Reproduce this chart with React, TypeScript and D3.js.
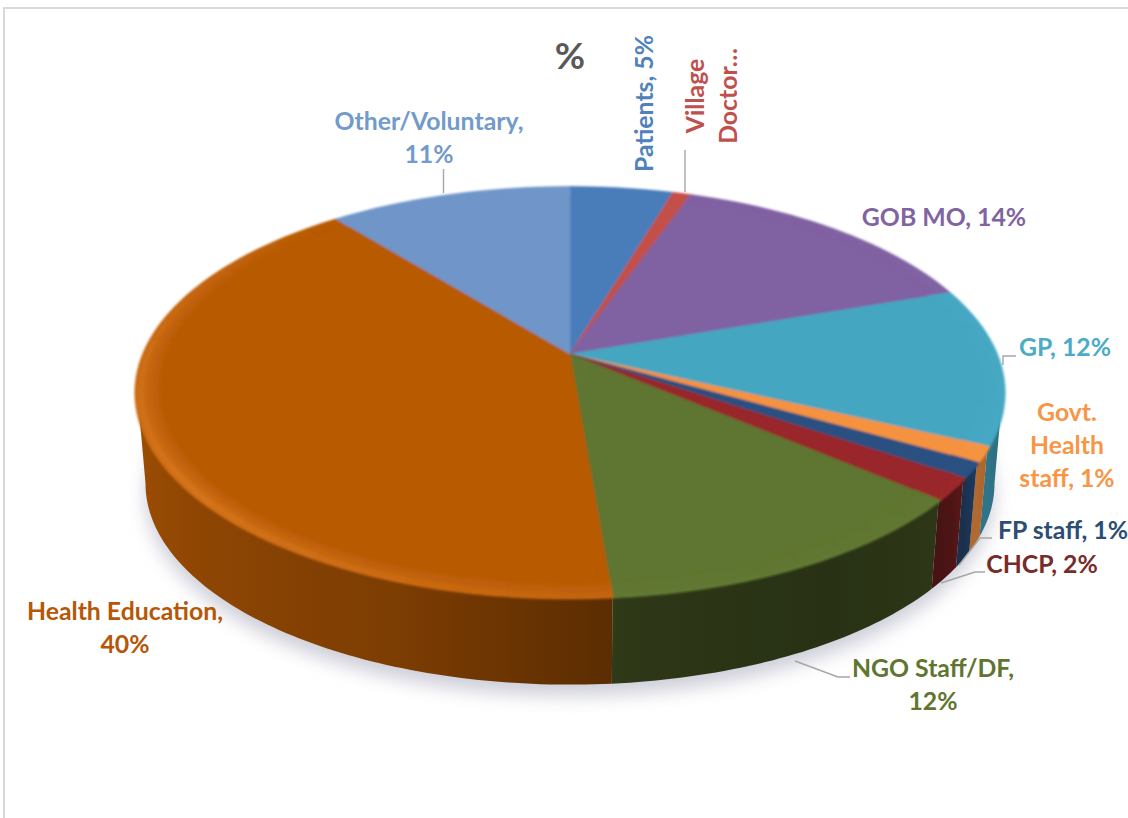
import React from "react";
import * as d3 from "d3";

const categories = ["Patients", "Village Doctor", "GOB MO", "GP", "Govt. Health staff", "FP staff", "CHCP", "NGO Staff/DF", "Health Education", "Other/Voluntary"];
const values = [4.6, 0.8, 14.3, 12.35, 1.2, 1.2, 1.75, 12.5, 40.5, 10.8];
const sliceColors = ["#4a7dba", "#c4504a", "#8062a2", "#45a6c2", "#f59240", "#2b5081", "#98282a", "#5f7530", "#b85a04", "#7096c9"];
const labelLines = [
  ["Patients, 5%"], ["Village", "Doctor…"], ["GOB MO, 14%"], ["GP, 12%"], ["Govt.", "Health", "staff, 1%"],
  ["FP staff, 1%"], ["CHCP, 2%"], ["NGO Staff/DF,", "12%"], ["Health Education,", "40%"], ["Other/Voluntary,", "11%"],
];
const labelColors = ["#4f81bd", "#c0504d", "#8064a2", "#4bacc6", "#f79646", "#2c4d75", "#772c2a", "#5f7530", "#b65708", "#729aca"];
const labelAnchors: [number, number, number][] = [
  [653, 172, -90], [704, 96, -90], [944, 226, 0], [1065, 356, 0], [1067, 421, 0],
  [1063, 539, 0], [1042, 573, 0], [933, 677, 0], [125, 620, 0], [429, 130, 0],
];
const leaders: [number, number][][] = [
  [[685, 150], [685, 192]],
  [[1003, 365], [1003, 356], [1016, 356]],
  [[959, 565], [980, 538], [992, 538]],
  [[941, 583], [975, 572], [985, 572]],
  [[795, 661], [838, 677], [850, 677]],
  [[443.5, 169], [443.5, 193]],
];
// wall darkening as a function of angle round the pie (degrees clockwise from top)
const shadeAngles = [0, 95, 112, 120, 128, 150, 172, 200, 250, 285, 360];
const shadeFactors = [0.8, 0.62, 0.68, 0.72, 0.48, 0.42, 0.47, 0.68, 0.84, 0.9, 0.8];

const FONT = "Lato, 'Open Sans', sans-serif";
const top = { cx: 570, cy: 354, rx: 425, ry: 198 };
const base = { cx: 570, cy: 446, rx: 417, ry: 194 };
const persp = 0.187;
const rad = (d: number) => (d * Math.PI) / 180;

const project = (g: typeof top, r: number, a: number): [number, number] => {
  const w = 1 / (1 + persp * r * Math.cos(a));
  return [g.cx + g.rx * r * Math.sin(a) * w, g.cy - g.ry * r * Math.cos(a) * w];
};
const line = d3.line<[number, number]>();
const arcs = d3.pie<number>().sort(null).startAngle(0).endAngle(2 * Math.PI)(values);
const shade = d3.scaleLinear<number>().domain(shadeAngles).range(shadeFactors);
const steps = (a0: number, a1: number, n = 2) => {
  const count = Math.max(1, Math.ceil(((a1 - a0) * 180) / Math.PI / n));
  return d3.range(count + 1).map((i) => a0 + ((a1 - a0) * i) / count);
};
const darken = (c: string, f: number) => {
  const q = d3.rgb(c);
  return d3.rgb(q.r * f, q.g * f, q.b * f).formatRgb();
};
const wedge = (r: number, a0: number, a1: number) =>
  line([[top.cx, top.cy], ...steps(a0, a1).map((a) => project(top, r, a))])! + "Z";
const ringRadii = d3.range(0.94, 1.0, 0.006).reverse();
const ringLight = d3.scaleLinear<number>().domain([0.94, 0.975, 0.99, 1]).range([0, 0.25, 0.45, 0.3]).clamp(true);
const rimStrength = d3.scaleLinear<number>().domain([0, 100, 170, 230, 275, 320, 360]).range([0, 0.15, 0.3, 1, 0.7, 0, 0]);

// visible part of the side wall (between the two silhouette tangents), one gradient band per slice
const wallMin = Math.acos(-persp);
const wallMax = 2 * Math.PI - wallMin;
const walls = arcs
  .map((arc, i) => ({ i, a0: Math.max(arc.startAngle, wallMin), a1: Math.min(arc.endAngle, wallMax) }))
  .filter((w) => w.a1 > w.a0);

export default function App() {
  return (
    <svg width={1128} height={818} style={{ position: "fixed", left: 0, top: 0, background: "#fff" }} fontFamily={FONT}>
      <defs>
        <filter id="soft" x="-10%" y="-10%" width="120%" height="120%">
          <feGaussianBlur stdDeviation="9" />
        </filter>
        <filter id="edge" x="-5%" y="-5%" width="110%" height="110%">
          <feGaussianBlur stdDeviation="0.9" />
        </filter>
        {walls.map(({ i, a0, a1 }) => {
          const x0 = project(top, 1, a0)[0];
          const x1 = project(top, 1, a1)[0];
          return (
            <linearGradient key={i} id={`wall${i}`} gradientUnits="userSpaceOnUse" x1={x0} x2={x1} y1={0} y2={0}>
              {steps(a0, a1, 4).map((a, j) => (
                <stop
                  key={j}
                  offset={(project(top, 1, a)[0] - x0) / (x1 - x0)}
                  stopColor={darken(sliceColors[i], shade((a * 180) / Math.PI))}
                />
              ))}
            </linearGradient>
          );
        })}
      </defs>
      <path d="M4,818V8H1128" fill="none" stroke="#d9d9d9" strokeWidth={2} />
      <path
        d={line(d3.range(0, 361, 3).map((d) => project(base, 1, rad(d))).map(([x, y]) => [x, y + 11] as [number, number]))!}
        fill="#cdced8"
        filter="url(#soft)"
      />
      <g>
        {walls.map(({ i, a0, a1 }) => {
          const angles = steps(a0, a1, 1);
          const pts = [...angles.map((a) => project(top, 1, a)), ...angles.slice().reverse().map((a) => project(base, 1, a))];
          return <path key={i} d={line(pts)! + "Z"} fill={`url(#wall${i})`} />;
        })}
      </g>
      <g filter="url(#edge)">
        {arcs.map((arc, i) =>
          ringRadii.map((r) =>
            d3.pairs(steps(arc.startAngle, arc.endAngle, 6)).map(([a0, a1], j) => {
              const deg = (((a0 + a1) / 2) * 180) / Math.PI;
              const color = d3.interpolateRgb(sliceColors[i], i === 8 ? "#ff9a3c" : d3.rgb(sliceColors[i]).brighter(1.2).formatRgb())(
                ringLight(r) * rimStrength(deg) * (i === 8 ? 1 : 0.4),
              );
              return <path key={`${i}-${r}-${j}`} d={wedge(r + 0.006, a0, a1)} fill={color} stroke={color} strokeWidth={0.4} />;
            }),
          ),
        )}
        {arcs.map((arc, i) => (
          <path key={i} d={wedge(0.94, arc.startAngle, arc.endAngle)} fill={sliceColors[i]} stroke={sliceColors[i]} strokeWidth={0.5} />
        ))}
      </g>
      {leaders.map((pts, i) => (
        <path key={i} d={line(pts)!} fill="none" stroke="#a6a6a6" strokeWidth={1.4} />
      ))}
      <text x={570} y={69} textAnchor="middle" fontSize={37} fontWeight={700} fill="#595959">%</text>
      {categories.map((c, i) => {
        const [x, y, rot] = labelAnchors[i];
        const multi = rot !== 0 && labelLines[i].length > 1;
        return (
          <text key={c} transform={`translate(${x},${y}) rotate(${rot})`} textAnchor={rot && !multi ? "start" : "middle"} fontSize={24.8} fontWeight={700} fill={labelColors[i]}>
            {labelLines[i].map((t, j) => (
              <tspan key={j} x={0} y={j * 33}>{t}</tspan>
            ))}
          </text>
        );
      })}
    </svg>
  );
}
